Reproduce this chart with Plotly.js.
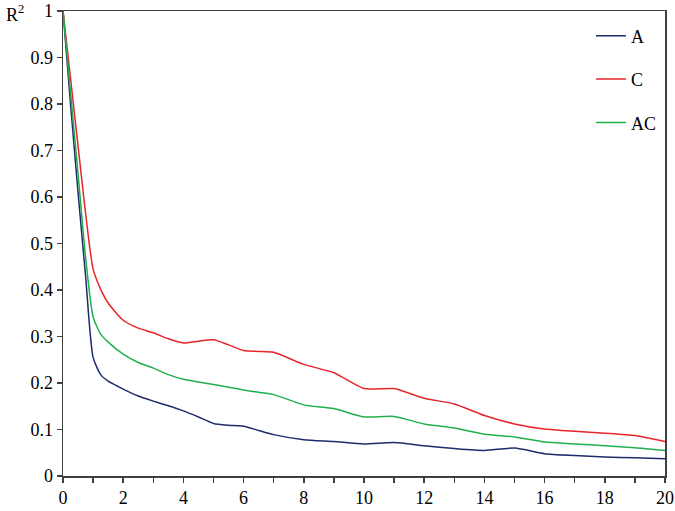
<!DOCTYPE html>
<html>
<head>
<meta charset="utf-8">
<script src="https://cdn.plot.ly/plotly-3.0.1.min.js"></script>
<style>html,body{margin:0;padding:0;background:#fff;}#chart{width:675px;height:511px;}</style>
</head>
<body>
<div id="chart"></div>
<script>
// shared x values
var xVals = [0,0.25,0.5,0.75,1,1.25,1.5,2,2.5,3,3.5,4,4.5,5,5.5,6,6.5,7,8,9,10,11,12,13,14,15,16,17,18,19,20];
var seriesNames = ["A","C","AC"];
var valuesA  = [1.0,0.80,0.61,0.43,0.255,0.218,0.204,0.187,0.172,0.161,0.151,0.140,0.127,0.113,0.109,0.107,0.098,0.089,0.078,0.074,0.069,0.072,0.065,0.059,0.055,0.060,0.048,0.044,0.041,0.039,0.037];
var valuesC  = [1.0,0.855,0.71,0.565,0.445,0.402,0.372,0.335,0.318,0.308,0.295,0.286,0.290,0.293,0.282,0.270,0.268,0.266,0.240,0.222,0.188,0.188,0.167,0.155,0.130,0.112,0.101,0.096,0.092,0.087,0.074];
var valuesAC = [1.0,0.825,0.65,0.47,0.342,0.305,0.288,0.262,0.244,0.232,0.218,0.208,0.202,0.197,0.191,0.185,0.180,0.175,0.153,0.145,0.127,0.128,0.112,0.103,0.090,0.084,0.073,0.069,0.065,0.061,0.055];
var yTickVals = [0,0.1,0.2,0.3,0.4,0.5,0.6,0.7,0.8,0.9,1];
var yTickText = ["0","0.1","0.2","0.3","0.4","0.5","0.6","0.7","0.8","0.9","1"];

var colors = ["#1f2b6b","#e8252a","#1fb04c"];
var allVals = [valuesA, valuesC, valuesAC];

var traces = seriesNames.map(function(n,i){
  return {
    x: xVals, y: allVals[i], name: n, type: "scatter", mode: "lines",
    legendgroup: n,
    line: {color: colors[i], width: 1.5, shape: "spline", smoothing: 0.6},
    hoverinfo: "skip"
  };
});

var axisFont = {family: "Liberation Serif", size: 18, color: "#000"};

var layout = {
  width: 675, height: 511,
  margin: {l: 63, r: 10, t: 11, b: 35},
  paper_bgcolor: "#fff", plot_bgcolor: "#fff",
  font: axisFont,
  showlegend: true,
  legend: {
    x: 0.877, y: 0.986, xanchor: "left", yanchor: "top",
    bgcolor: "rgba(0,0,0,0)", borderwidth: 0,
    traceorder: "grouped", tracegroupgap: 17,
    font: axisFont
  },
  xaxis: {
    range: [0, 20], dtick: 2, tick0: 0,
    showgrid: false, zeroline: false,
    showline: true, linecolor: "#404040", linewidth: 1.5, mirror: true,
    ticks: "outside", ticklen: 5, tickcolor: "#404040", tickwidth: 1.5,
    minor: {dtick: 1, ticks: "outside", ticklen: 5, tickcolor: "#404040", tickwidth: 1.5},
    tickfont: axisFont
  },
  yaxis: {
    range: [0, 1],
    tickvals: yTickVals, ticktext: yTickText,
    showgrid: false, zeroline: false,
    showline: true, linecolor: "#404040", linewidth: 1.5, mirror: true,
    ticks: "outside", ticklen: 5, tickcolor: "#404040", tickwidth: 1.5,
    tickfont: axisFont, ticklabeloverflow: "allow"
  },
  annotations: [{
    text: "R<sup>2</sup>", xref: "paper", yref: "paper",
    x: -0.08, y: 1, xanchor: "center", yanchor: "middle", yshift: -2,
    showarrow: false, font: axisFont
  }]
};

Plotly.newPlot("chart", traces, layout, {staticPlot: true, displayModeBar: false});
</script>
</body>
</html>
